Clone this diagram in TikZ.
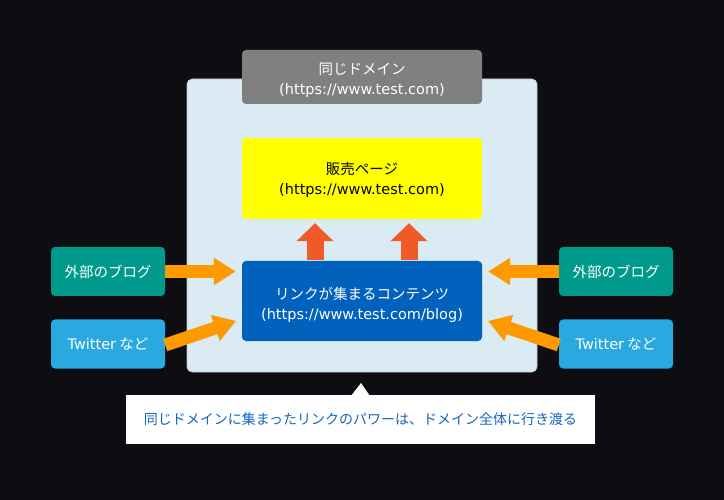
\documentclass[tikz,border=0pt]{standalone}
\usepackage{fontspec}
\setmainfont{Noto Sans CJK JP}
\newfontfamily\lat{DejaVu Sans}
\usetikzlibrary{arrows.meta,calc}
\definecolor{bgc}{HTML}{0D0D12}
\definecolor{panelc}{HTML}{DBEBF3}
\definecolor{panelb}{HTML}{B8CCD6}
\definecolor{grayc}{HTML}{808080}
\definecolor{yelc}{HTML}{FFFF00}
\definecolor{bluec}{HTML}{0062BC}
\definecolor{tealc}{HTML}{009A8C}
\definecolor{skyc}{HTML}{2AA8E0}
\definecolor{redc}{HTML}{F05A28}
\definecolor{orc}{HTML}{FF9900}
\definecolor{txtb}{HTML}{1466C0}
\tikzset{
  box/.style={rounded corners=4pt, minimum width=240pt, inner sep=0pt},
  boxtext/.style={align=center, font=\fontsize{14.5}{20}\selectfont, inner sep=0pt},
  side/.style={rounded corners=4pt, minimum width=114pt, minimum height=49pt, text=white, font=\fontsize{14.5}{18}\selectfont, inner sep=0pt},
  oarrow/.style={draw=orc, line width=13pt, -{Triangle[length=22pt,width=26pt]}},
  rarrow/.style={draw=redc, line width=17pt, -{Triangle[length=18pt,width=36pt]}},
}
\begin{document}
\begin{tikzpicture}[x=1pt,y=-1pt]
\useasboundingbox (0,0) rectangle (724,500);
\fill[bgc] (0,0) rectangle (724,500);
% panel
\node[draw=panelb, line width=0.6pt, fill=panelc, rounded corners=5pt, minimum width=350pt, minimum height=293pt, inner sep=0pt] (panel) at (362,225.5) {};
% gray domain box
\node[box, fill=grayc, minimum height=54pt] (dom) at (362,77) {};
\node[boxtext, text=white] (domt) at (362,80) {同じドメイン\\{\lat (https://www.test.com)}};
% yellow
\node[box, fill=yelc, minimum height=81pt] (sale) at (362,178.5) {};
\node[boxtext, text=black] (salet) at (362,179.5) {販売ページ\\{\lat (https://www.test.com)}};
% blue
\node[box, fill=bluec, minimum height=80pt] (blog) at (362,301) {};
\node[boxtext, text=white] (blogt) at (362,304.5) {リンクが集まるコンテンツ\\{\lat (https://www.test.com/blog)}};
% side boxes
\node[side, fill=tealc] (extL) at (108,271.5) {外部のブログ};
\node[side, fill=skyc] (twL) at (108,344) {{\lat Twitter} など};
\node[side, fill=tealc] (extR) at (616,271.5) {外部のブログ};
\node[side, fill=skyc] (twR) at (616,344) {{\lat Twitter} など};
% up arrows
\coordinate (u1) at (315,0);
\coordinate (u2) at (409,0);
\draw[rarrow, shorten >=4pt, shorten <=1pt] (blog.north -| u1) -- (sale.south -| u1);
\draw[rarrow, shorten >=4pt, shorten <=1pt] (blog.north -| u2) -- (sale.south -| u2);
% orange arrows
\draw[oarrow, shorten >=6pt] (extL.east) -- (extL.east -| blog.west);
\draw[oarrow, shorten >=6pt] (extR.west) -- (extR.west -| blog.east);
\draw[oarrow, shorten >=6pt] ($(twL.east)+(0,1)$) -- ($(blog.west)+(0,18)$);
\draw[oarrow, shorten >=6pt] ($(twR.west)+(0,1)$) -- ($(blog.east)+(0,18)$);
% callout
\node[fill=white, minimum width=469pt, minimum height=49pt, inner sep=0pt, text=txtb, font=\fontsize{14}{18}\selectfont] (note) at (360.5,419.5) {同じドメインに集まったリンクのパワーは、ドメイン全体に行き渡る};
\coordinate (tip) at (361,383);
\fill[white] ($(note.north)+(-9,0.5)$) -- (tip) -- ($(note.north)+(9,0.5)$) -- cycle;
\end{tikzpicture}
\end{document}
